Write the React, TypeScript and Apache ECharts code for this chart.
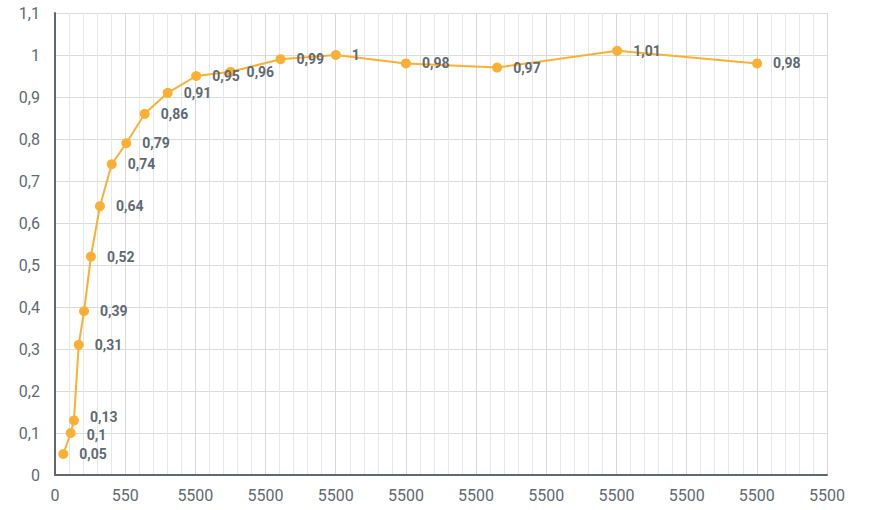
import React, { useEffect, useRef } from "react";
import * as echarts from "echarts";

const xValues = [59, 112, 135, 169, 207, 256, 320, 404, 508, 639, 803, 1006, 1251, 1607, 2001, 2500, 3150, 4005, 5002];
const yValues = [0.05, 0.1, 0.13, 0.31, 0.39, 0.52, 0.64, 0.74, 0.79, 0.86, 0.91, 0.95, 0.96, 0.99, 1, 0.98, 0.97, 1.01, 0.98];
const xTickLabels = ["0", "550", "5500", "5500", "5500", "5500", "5500", "5500", "5500", "5500", "5500", "5500"];

const FONT = "Roboto, 'Noto Sans', sans-serif";
const TEXT = "#5f6a72";

export default function App() {
  const ref = useRef<HTMLDivElement>(null);
  useEffect(() => {
    if (!ref.current) return;
    const chart = echarts.init(ref.current, null, { renderer: "svg" });
    chart.setOption({
      animation: false,
      grid: { left: 55, right: 42, top: 13, bottom: 35, containLabel: false },
      xAxis: {
        type: "value",
        min: 0,
        max: 5500,
        interval: 500,
        axisLine: { show: true, onZero: false, lineStyle: { color: "#5d6870", width: 2 } },
        axisTick: { show: false },
        axisLabel: {
          color: TEXT,
          fontFamily: FONT,
          fontSize: 16,
          margin: 12,
          formatter: (v: number) => xTickLabels[Math.round(v / 500)] ?? "",
        },
        splitLine: { show: true, lineStyle: { color: "#d6d8da", width: 1 } },
        minorTick: { show: false, splitNumber: 5 },
        minorSplitLine: { show: true, lineStyle: { color: "#e6e7e8", width: 1 } },
      },
      yAxis: {
        type: "value",
        min: 0,
        max: 1.1,
        interval: 0.1,
        axisLine: { show: true, lineStyle: { color: "#5d6870", width: 2 } },
        axisTick: { show: false },
        axisLabel: {
          color: TEXT,
          fontFamily: FONT,
          fontSize: 16,
          margin: 15,
          formatter: (v: number) => String(Math.round(v * 10) / 10).replace(".", ","),
        },
        splitLine: { show: true, lineStyle: { color: "#d9dbdc", width: 1 } },
      },
      series: [
        {
          type: "line",
          data: xValues.map((x, i) => {
            const item: any = { value: [x, yValues[i]] };
            if (i === 1) item.label = { offset: [0, 2] };
            if (i === 2) item.label = { offset: [0, -3] };
            return item;
          }),
          symbol: "circle",
          symbolSize: 10,
          lineStyle: { color: "#fbb034", width: 2 },
          itemStyle: { color: "#fbb034" },
          label: {
            show: true,
            position: "right",
            distance: 11,
            color: TEXT,
            fontFamily: FONT,
            fontWeight: "bold",
            fontSize: 14,
            lineHeight: 12,
            formatter: (p: any) => String(p.value[1]).replace(".", ","),
          },
        },
      ],
    });
    return () => chart.dispose();
  }, []);
  return <div ref={ref} style={{ width: 869, height: 510, position: "absolute", left: 0, top: 0 }} />;
}
